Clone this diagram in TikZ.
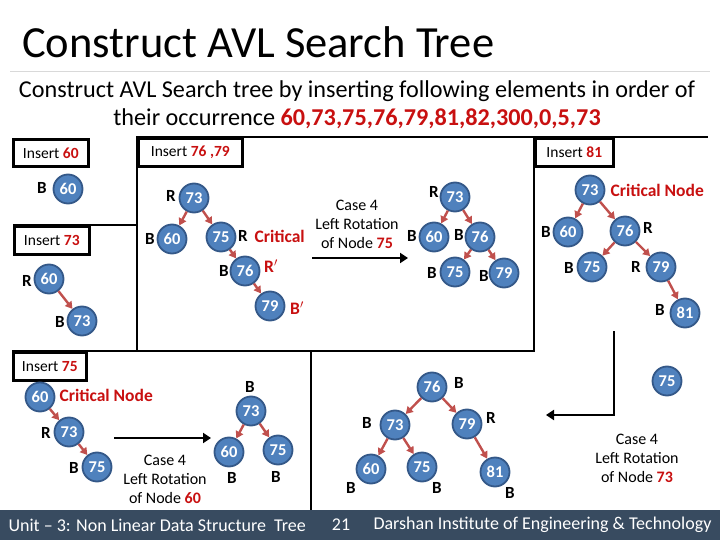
\documentclass[tikz,border=0pt]{standalone}
\usepackage{fontspec}
\setmainfont{Carlito}
\usetikzlibrary{arrows.meta}
\definecolor{nodeblue}{RGB}{79,129,189}
\definecolor{nodeedge}{RGB}{52,88,136}
\definecolor{linkred}{RGB}{192,80,77}
\definecolor{hired}{RGB}{200,16,16}
\definecolor{barblue}{RGB}{56,75,96}

\tikzset{
  avl/.style={circle, fill=nodeblue, draw=nodeedge, line width=1.8pt,
    minimum size=29pt, inner sep=0pt, text=white,
    font=\fontsize{16.5}{16.5}\selectfont\bfseries},
  link/.style={linkred, line width=2.4pt, -{Triangle[length=7pt,width=8pt]}},
  bal/.style={font=\fontsize{17}{17}\selectfont\bfseries},
  crit/.style={text=hired, font=\fontsize{17.5}{17.5}\selectfont\bfseries},
  insbox/.style={draw, line width=2.6pt, anchor=north west, inner sep=0pt,
    font=\fontsize{15.5}{15.5}\selectfont},
  frame/.style={line width=2.6pt},
  rot/.style={line width=2.6pt, -{Triangle[length=8pt,width=10pt]}},
  casetext/.style={align=center, font=\fontsize{16}{19}\selectfont},
}
\newcommand{\num}[1]{\textcolor{hired}{\bfseries #1}}

\begin{document}
\begin{tikzpicture}[x=1pt, y=-1pt]

    \useasboundingbox (0,0) rectangle (720,540);

    %% Title
    \node[anchor=west, inner sep=0pt, font=\fontsize{44.5}{44.5}\selectfont] (title) at (22,42) {Construct AVL Search Tree};
    \draw[black!15, line width=1pt] (10,72) -- (710,72);
    \node[font=\fontsize{24.2}{24.2}\selectfont] (sub1) at (357,91) {Construct AVL Search tree by inserting following elements in order of};
    \node[font=\fontsize{24.2}{24.2}\selectfont] (sub2) at (357,119) {their occurrence \num{60,73,75,76,79,81,82,300,0,5,73}};

    %% Frame
    \draw[frame] (137,351) -- (137,137) -- (708,137);
    \draw[frame] (13,225) -- (137,225);
    \draw[frame] (534,137) -- (534,351) -- (12,351);
    \draw[frame] (311,351) -- (311,510);

    %% Insert boxes
    \node[insbox, minimum width=75pt, minimum height=27pt] (ins60) at (12,138) {Insert \num{60}};
    \node[insbox, minimum width=75pt, minimum height=28pt] (ins73) at (13,225) {Insert \num{73}};
    \node[insbox, minimum width=104pt, minimum height=28pt] (ins7679) at (137,137) {Insert \num{76 ,79}};
    \node[insbox, minimum width=78pt, minimum height=28pt] (ins81) at (534,137) {Insert \num{81}};
    \node[insbox, minimum width=73pt, minimum height=28pt] (ins75) at (12,351) {Insert \num{75}};

    %% Insert 60
    \node[avl] (a60) at (68,189) {60};
    \node[bal] (ba60) at (42,188) {B};

    %% Insert 73
    \node[avl] (b60) at (49,279) {60};
    \node[avl] (b73) at (82,321) {73};
    \node[bal] (bb60) at (27,281) {R};
    \node[bal] (bb73) at (60,322) {B};
    \draw[link] (b60) -- (b73);

    %% Insert 76, 79
    \node[avl] (c73) at (194,198) {73};
    \node[avl] (c60) at (172,239) {60};
    \node[avl] (c75) at (221,237) {75};
    \node[avl] (c76) at (245,271) {76};
    \node[avl] (c79) at (270,306) {79};
    \node[bal] (bc73) at (171,196) {R};
    \node[bal] (bc60) at (150,239) {B};
    \node[bal] (bc75) at (243,236) {R};
    \node[crit, anchor=west] (crit75) at (251,236) {Critical};
    \node[bal] (bc76) at (224,271) {B};
    \node[crit] (bc76r) at (271,266) {R$'$};
    \node[crit] (bc79r) at (297,308) {B$'$};
    \draw[link] (c73) -- (c60);
    \draw[link] (c73) -- (c75);
    \draw[link] (c75) -- (c76);
    \draw[link] (c76) -- (c79);

    \node[casetext] (case75) at (357,224) {Case 4\\Left Rotation\\of Node \num{75}};
    \coordinate (r1s) at (312,258);
    \coordinate (r1e) at (408,258);
    \draw[rot] (r1s) -- (r1e);

    %% After rotation of 75
    \node[avl] (d73) at (455,197) {73};
    \node[avl] (d60) at (434,237) {60};
    \node[avl] (d76) at (480,237) {76};
    \node[avl] (d75) at (455,272) {75};
    \node[avl] (d79) at (504,273) {79};
    \node[bal] (bd73) at (434,192) {R};
    \node[bal] (bd60) at (412,236) {B};
    \node[bal] (bd76) at (459,235) {B};
    \node[bal] (bd75) at (432,273) {B};
    \node[bal] (bd79) at (484,276) {B};
    \draw[link] (d73) -- (d60);
    \draw[link] (d73) -- (d76);
    \draw[link] (d76) -- (d75);
    \draw[link] (d76) -- (d79);

    %% Insert 81
    \node[avl] (e73) at (590,190) {73};
    \node[avl] (e60) at (568,232) {60};
    \node[avl] (e76) at (625,231) {76};
    \node[avl] (e75) at (592,267) {75};
    \node[avl] (e79) at (661,267) {79};
    \node[avl] (e81) at (685,313) {81};
    \node[crit, anchor=west] (crit73) at (607,190) {Critical Node};
    \node[bal] (be60) at (546,232) {B};
    \node[bal] (be76) at (648,228) {R};
    \node[bal] (be75) at (569,268) {B};
    \node[bal] (be79) at (636,267) {R};
    \node[bal] (be81) at (660,310) {B};
    \draw[link] (e73) -- (e60);
    \draw[link] (e73) -- (e76);
    \draw[link] (e76) -- (e75);
    \draw[link] (e76) -- (e79);
    \draw[link] (e79) -- (e81);

    \node[avl] (f75) at (667,381) {75};
    \node[casetext] (case73) at (637,458) {Case 4\\Left Rotation\\of Node \num{73}};
    \coordinate (r3a) at (614,331);
    \coordinate (r3b) at (614,415);
    \coordinate (r3e) at (546,415);
    \draw[rot] (r3a) -- (r3b) -- (r3e);

    %% Insert 75
    \node[avl] (g60) at (40,397) {60};
    \node[avl] (g73) at (69,432) {73};
    \node[avl] (g75) at (97,467) {75};
    \node[crit, anchor=west] (crit60) at (56,395) {Critical Node};
    \node[bal] (bg73) at (46,433) {R};
    \node[bal] (bg75) at (74,468) {B};
    \draw[link] (g60) -- (g73);
    \draw[link] (g73) -- (g75);

    \coordinate (r2s) at (114,438);
    \coordinate (r2e) at (211,438);
    \draw[rot] (r2s) -- (r2e);
    \node[casetext] (case60) at (165,479) {Case 4\\Left Rotation\\of Node \num{60}};

    \node[avl] (h73) at (251,411) {73};
    \node[avl] (h60) at (229,452) {60};
    \node[avl] (h75) at (278,450) {75};
    \node[bal] (bh73) at (250,387) {B};
    \node[bal] (bh60) at (232,478) {B};
    \node[bal] (bh75) at (276,477) {B};
    \draw[link] (h73) -- (h60);
    \draw[link] (h73) -- (h75);

    %% Final tree
    \node[avl] (k76) at (432,387) {76};
    \node[avl] (k73) at (395,425) {73};
    \node[avl] (k79) at (467,424) {79};
    \node[avl] (k60) at (371,469) {60};
    \node[avl] (k75) at (422,467) {75};
    \node[avl] (k81) at (495,472) {81};
    \node[bal] (bk76) at (459,383) {B};
    \node[bal] (bk73) at (367,423) {B};
    \node[bal] (bk79) at (491,418) {R};
    \node[bal] (bk60) at (351,488) {B};
    \node[bal] (bk75) at (437,488) {B};
    \node[bal] (bk81) at (510,493) {B};
    \draw[link] (k76) -- (k73);
    \draw[link] (k76) -- (k79);
    \draw[link] (k73) -- (k60);
    \draw[link] (k73) -- (k75);
    \draw[link] (k79) -- (k81);

    %% Footer
    \fill[barblue] (0,510) rectangle (720,540);
    \node[anchor=west, text=white, font=\fontsize{18}{18}\selectfont] (unit) at (5,525) {Unit -- 3: Non Linear Data Structure~~Tree};
    \node[text=white, font=\fontsize{18}{18}\selectfont] (page) at (341,525) {21};
    \node[anchor=west, text=white, font=\fontsize{18}{18}\selectfont] (inst) at (370,525) {Darshan Institute of Engineering \& Technology};

\end{tikzpicture}
\end{document}
